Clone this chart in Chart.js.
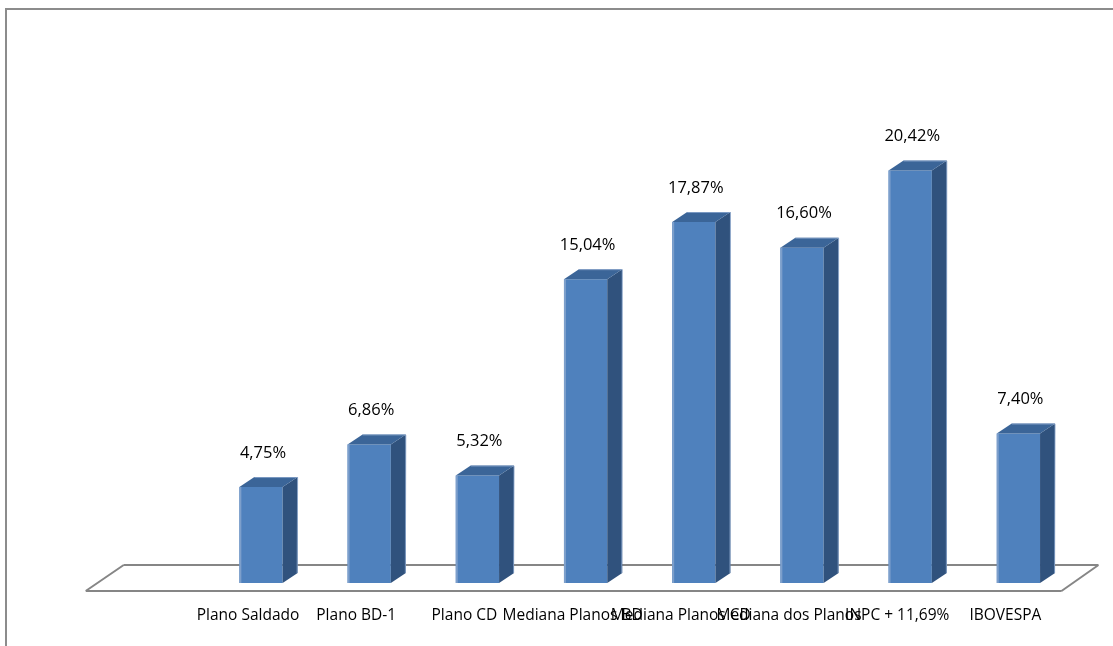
<!DOCTYPE html>
<html>
<head>
<meta charset="utf-8">
<script src="https://cdn.jsdelivr.net/npm/chart.js@4/dist/chart.umd.min.js"></script>
<style>
  html, body { margin: 0; padding: 0; background: #fff; }
  #wrap { width: 1113px; height: 646px; position: relative; }
</style>
</head>
<body>
<div id="wrap"><canvas id="c"></canvas></div>
<script>
const categories = ['', 'Plano Saldado', 'Plano BD-1', 'Plano CD', 'Mediana Planos BD', 'Mediana Planos CD', 'Mediana dos Planos', 'INPC + 11,69%', 'IBOVESPA'];
const values = [null, 4.75, 6.86, 5.32, 15.04, 17.87, 16.60, 20.42, 7.40];
const valueLabels = values.map(v => v == null ? '' : v.toFixed(2).replace('.', ',') + '%');

const DX = 15, DY = 10;

const framePlugin = {
  id: 'frame',
  beforeDraw(chart) {
    const ctx = chart.ctx;
    ctx.save();
    ctx.fillStyle = '#fff';
    ctx.fillRect(0, 0, chart.width, chart.height);
    ctx.strokeStyle = '#8c8c8c';
    ctx.lineWidth = 2;
    ctx.beginPath();
    ctx.moveTo(6, chart.height);
    ctx.lineTo(6, 9);
    ctx.lineTo(chart.width, 9);
    ctx.stroke();
    ctx.restore();
  }
};

const floorPlugin = {
  id: 'floor',
  beforeDatasetsDraw(chart) {
    const ctx = chart.ctx, ca = chart.chartArea;
    const yBack = ca.bottom - 18, yFront = ca.bottom + 8;
    const fl = ca.left - 13, fr = ca.right - 11;
    const bl = ca.left + 25, br = ca.right + 26;
    ctx.save();
    ctx.strokeStyle = '#868686';
    ctx.lineWidth = 2;
    ctx.beginPath();
    ctx.moveTo(bl, yBack); ctx.lineTo(br, yBack);
    ctx.moveTo(fl, yFront); ctx.lineTo(fr, yFront);
    ctx.moveTo(fl, yFront); ctx.lineTo(bl, yBack);
    ctx.moveTo(fr, yFront); ctx.lineTo(br, yBack);
    ctx.stroke();
    ctx.restore();
  }
};

const bar3dPlugin = {
  id: 'bar3d',
  afterDatasetsDraw(chart) {
    const ctx = chart.ctx;
    const meta = chart.getDatasetMeta(0);
    ctx.save();
    meta.data.forEach((bar, i) => {
      if (values[i] == null) return;
      const { x, y, base, width } = bar.getProps(['x', 'y', 'base', 'width'], true);
      const l = x - width / 2, r = x + width / 2;
      // side face
      ctx.fillStyle = '#30527d';
      ctx.beginPath();
      ctx.moveTo(r, y);
      ctx.lineTo(r + DX, y - DY);
      ctx.lineTo(r + DX, base - DY);
      ctx.lineTo(r, base);
      ctx.closePath();
      ctx.fill();
      // top face
      ctx.fillStyle = '#3b6598';
      ctx.beginPath();
      ctx.moveTo(l, y);
      ctx.lineTo(l + DX, y - DY);
      ctx.lineTo(r + DX, y - DY);
      ctx.lineTo(r, y);
      ctx.closePath();
      ctx.fill();
      // subtle highlight on top back edge
      ctx.strokeStyle = 'rgba(140,168,205,0.8)';
      ctx.lineWidth = 1;
      ctx.beginPath();
      ctx.moveTo(l + DX, y - DY + 0.5);
      ctx.lineTo(r + DX, y - DY + 0.5);
      ctx.lineTo(r + DX - 0.5, base - DY);
      ctx.stroke();
      // light stripe on left of front face
      ctx.fillStyle = '#7d9fcb';
      ctx.fillRect(l, y, 2, base - y);
      // value label
      ctx.fillStyle = '#000';
      ctx.font = '16.5px "Open Sans"';
      ctx.textAlign = 'center';
      ctx.textBaseline = 'middle';
      ctx.fillText(valueLabels[i], x + 2, y - 34);
    });
    ctx.restore();
  }
};

new Chart(document.getElementById('c'), {
  type: 'bar',
  data: {
    labels: categories,
    datasets: [{
      data: values,
      backgroundColor: '#4f81bd',
      borderWidth: 0,
      categoryPercentage: 1,
      barPercentage: 0.4
    }]
  },
  options: {
    responsive: true,
    maintainAspectRatio: false,
    animation: false,
    events: [],
    layout: { padding: { left: 98.7, right: 40.5, top: 78, bottom: 23 } },
    plugins: { legend: { display: false }, tooltip: { enabled: false } },
    scales: {
      x: {
        grid: { display: false, drawTicks: false },
        border: { display: false },
        ticks: {
          autoSkip: false, maxRotation: 0, minRotation: 0,
          color: '#000', padding: 23, labelOffset: -13,
          font: { family: 'Open Sans', size: 15.5 }
        },
        afterFit(scale) { scale.height = 40; }
      },
      y: { display: false, min: 0, max: 25 }
    }
  },
  plugins: [framePlugin, floorPlugin, bar3dPlugin]
});
</script>
</body>
</html>
